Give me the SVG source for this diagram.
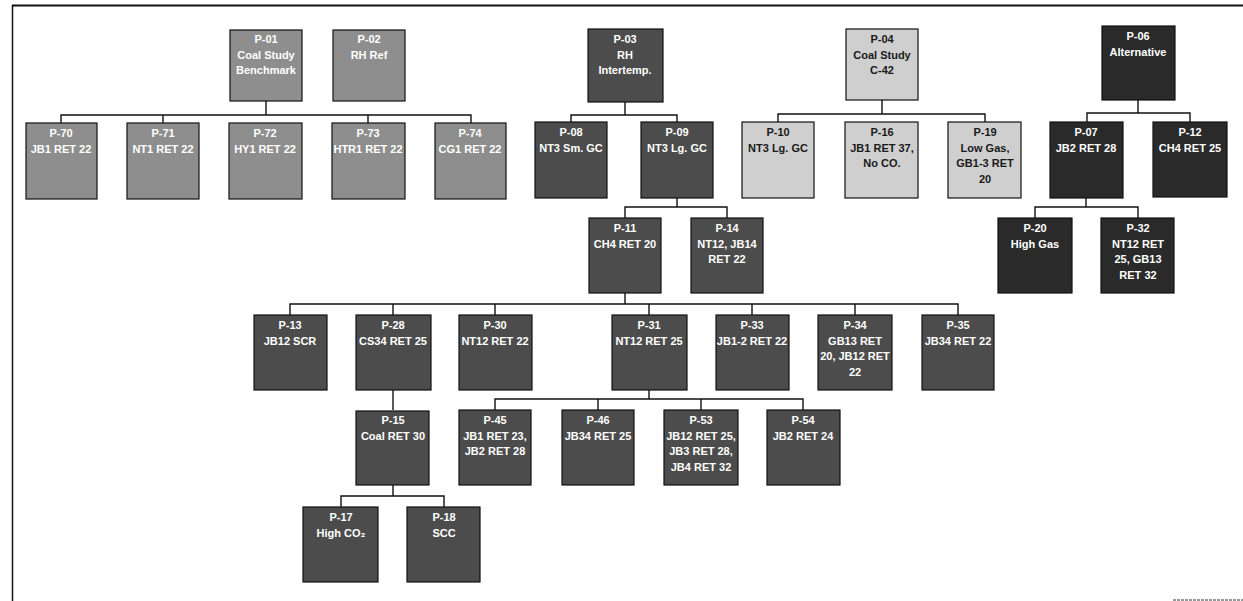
<svg xmlns="http://www.w3.org/2000/svg" width="1243" height="601" viewBox="0 0 1243 601">
<style>
rect.n{stroke:#111;stroke-width:1.2}
.g1{fill:#8e8e8e}
.g2{fill:#4c4c4c}
.g3{fill:#cfcfcf}
.g4{fill:#2a2a2a}
text{font-family:"Liberation Sans",Arial,sans-serif;font-weight:bold;font-size:11px;text-anchor:middle}
.w{fill:#fff}
.k{fill:#1a1a1a}
.c{fill:none;stroke:#111;stroke-width:1.4}
</style>
<rect width="1243" height="601" fill="#fff"/>
<g id="frame">
<line x1="12" y1="5.5" x2="1243" y2="5.5" stroke="#111" stroke-width="2"/>
<line x1="12.5" y1="5" x2="12.5" y2="601" stroke="#111" stroke-width="1.5"/>
<line x1="1173" y1="600" x2="1243" y2="600" stroke="#777" stroke-width="1.5" stroke-dasharray="3,1"/>
</g>
<g id="connectors">
<path class="c" d="M266,100V115M61,123V115H471V123M163,115V123M368,115V123"/>
<path class="c" d="M625,102V115M571,122V115H677V122"/>
<path class="c" d="M882,100V114M778,122V114H985V122"/>
<path class="c" d="M1138,100V113M1087,122V113H1190V122"/>
<path class="c" d="M677,198V207M625,218V207H727V218"/>
<path class="c" d="M1086,198V207M1035,218V207H1138V218"/>
<path class="c" d="M625,293V304M290,315V304H958V315M393,304V315M495,304V315M649,304V315M752,304V315M855,304V315"/>
<path class="c" d="M393,390V410"/>
<path class="c" d="M649,390V399M495,410V399H803V410M598,399V410M701,399V410"/>
<path class="c" d="M393,485V496M341,507V496H444V507"/>
</g>
<g id="P-01"><rect class="n g1" x="230" y="30" width="72" height="71"/><text class="w" x="266" y="43">P-01<tspan x="266" dy="15.5">Coal Study</tspan><tspan x="266" dy="15.5">Benchmark</tspan></text></g>
<g id="P-02"><rect class="n g1" x="333" y="30" width="72" height="71"/><text class="w" x="369" y="43">P-02<tspan x="369" dy="15.5">RH Ref</tspan></text></g>
<g id="P-03"><rect class="n g2" x="588" y="29" width="75" height="73"/><text class="w" x="625" y="43">P-03<tspan x="625" dy="15.5">RH</tspan><tspan x="625" dy="15.5">Intertemp.</tspan></text></g>
<g id="P-04"><rect class="n g3" x="846" y="29" width="72" height="71"/><text class="k" x="882" y="43">P-04<tspan x="882" dy="15.5">Coal Study</tspan><tspan x="882" dy="15.5">C-42</tspan></text></g>
<g id="P-06"><rect class="n g4" x="1102" y="26" width="73" height="74"/><text class="w" x="1138" y="40">P-06<tspan x="1138" dy="15.5">Alternative</tspan></text></g>
<g id="P-70"><rect class="n g1" x="26" y="123" width="71" height="76"/><text class="w" x="61" y="137">P-70<tspan x="61" dy="15.5">JB1 RET 22</tspan></text></g>
<g id="P-71"><rect class="n g1" x="127" y="123" width="72" height="76"/><text class="w" x="163" y="137">P-71<tspan x="163" dy="15.5">NT1 RET 22</tspan></text></g>
<g id="P-72"><rect class="n g1" x="229" y="123" width="73" height="76"/><text class="w" x="265" y="137">P-72<tspan x="265" dy="15.5">HY1 RET 22</tspan></text></g>
<g id="P-73"><rect class="n g1" x="332" y="123" width="73" height="76"/><text class="w" x="368" y="137">P-73<tspan x="368" dy="15.5">HTR1 RET 22</tspan></text></g>
<g id="P-74"><rect class="n g1" x="435" y="123" width="71" height="76"/><text class="w" x="470" y="137">P-74<tspan x="470" dy="15.5">CG1 RET 22</tspan></text></g>
<g id="P-08"><rect class="n g2" x="535" y="122" width="72" height="76"/><text class="w" x="571" y="136">P-08<tspan x="571" dy="15.5">NT3 Sm. GC</tspan></text></g>
<g id="P-09"><rect class="n g2" x="641" y="122" width="72" height="76"/><text class="w" x="677" y="136">P-09<tspan x="677" dy="15.5">NT3 Lg. GC</tspan></text></g>
<g id="P-10"><rect class="n g3" x="742" y="122" width="72" height="76"/><text class="k" x="778" y="136">P-10<tspan x="778" dy="15.5">NT3 Lg. GC</tspan></text></g>
<g id="P-16"><rect class="n g3" x="845" y="122" width="73" height="76"/><text class="k" x="882" y="136">P-16<tspan x="882" dy="15.5">JB1 RET 37,</tspan><tspan x="882" dy="15.5">No CO.</tspan></text></g>
<g id="P-19"><rect class="n g3" x="948" y="122" width="73" height="76"/><text class="k" x="985" y="136">P-19<tspan x="985" dy="15.5">Low Gas,</tspan><tspan x="985" dy="15.5">GB1-3 RET</tspan><tspan x="985" dy="15.5">20</tspan></text></g>
<g id="P-07"><rect class="n g4" x="1050" y="122" width="73" height="76"/><text class="w" x="1086" y="136">P-07<tspan x="1086" dy="15.5">JB2 RET 28</tspan></text></g>
<g id="P-12"><rect class="n g4" x="1153" y="122" width="74" height="75"/><text class="w" x="1190" y="136">P-12<tspan x="1190" dy="15.5">CH4 RET 25</tspan></text></g>
<g id="P-11"><rect class="n g2" x="589" y="218" width="72" height="75"/><text class="w" x="625" y="232">P-11<tspan x="625" dy="15.5">CH4 RET 20</tspan></text></g>
<g id="P-14"><rect class="n g2" x="691" y="218" width="72" height="75"/><text class="w" x="727" y="232">P-14<tspan x="727" dy="15.5">NT12, JB14</tspan><tspan x="727" dy="15.5">RET 22</tspan></text></g>
<g id="P-20"><rect class="n g4" x="998" y="218" width="74" height="75"/><text class="w" x="1035" y="232">P-20<tspan x="1035" dy="15.5">High Gas</tspan></text></g>
<g id="P-32"><rect class="n g4" x="1101" y="218" width="73" height="75"/><text class="w" x="1138" y="232">P-32<tspan x="1138" dy="15.5">NT12 RET</tspan><tspan x="1138" dy="15.5">25, GB13</tspan><tspan x="1138" dy="15.5">RET 32</tspan></text></g>
<g id="P-13"><rect class="n g2" x="254" y="315" width="73" height="75"/><text class="w" x="290" y="329">P-13<tspan x="290" dy="15.5">JB12 SCR</tspan></text></g>
<g id="P-28"><rect class="n g2" x="356" y="315" width="75" height="75"/><text class="w" x="393" y="329">P-28<tspan x="393" dy="15.5">CS34 RET 25</tspan></text></g>
<g id="P-30"><rect class="n g2" x="459" y="315" width="73" height="75"/><text class="w" x="495" y="329">P-30<tspan x="495" dy="15.5">NT12 RET 22</tspan></text></g>
<g id="P-31"><rect class="n g2" x="612" y="315" width="75" height="75"/><text class="w" x="649" y="329">P-31<tspan x="649" dy="15.5">NT12 RET 25</tspan></text></g>
<g id="P-33"><rect class="n g2" x="716" y="315" width="73" height="75"/><text class="w" x="752" y="329">P-33<tspan x="752" dy="15.5">JB1-2 RET 22</tspan></text></g>
<g id="P-34"><rect class="n g2" x="818" y="315" width="74" height="75"/><text class="w" x="855" y="329">P-34<tspan x="855" dy="15.5">GB13 RET</tspan><tspan x="855" dy="15.5">20, JB12 RET</tspan><tspan x="855" dy="15.5">22</tspan></text></g>
<g id="P-35"><rect class="n g2" x="922" y="315" width="72" height="75"/><text class="w" x="958" y="329">P-35<tspan x="958" dy="15.5">JB34 RET 22</tspan></text></g>
<g id="P-15"><rect class="n g2" x="356" y="411" width="73" height="74"/><text class="w" x="393" y="424">P-15<tspan x="393" dy="15.5">Coal RET 30</tspan></text></g>
<g id="P-45"><rect class="n g2" x="459" y="410" width="72" height="75"/><text class="w" x="495" y="424">P-45<tspan x="495" dy="15.5">JB1 RET 23,</tspan><tspan x="495" dy="15.5">JB2 RET 28</tspan></text></g>
<g id="P-46"><rect class="n g2" x="562" y="410" width="72" height="75"/><text class="w" x="598" y="424">P-46<tspan x="598" dy="15.5">JB34 RET 25</tspan></text></g>
<g id="P-53"><rect class="n g2" x="664" y="410" width="74" height="75"/><text class="w" x="701" y="424">P-53<tspan x="701" dy="15.5">JB12 RET 25,</tspan><tspan x="701" dy="15.5">JB3 RET 28,</tspan><tspan x="701" dy="15.5">JB4 RET 32</tspan></text></g>
<g id="P-54"><rect class="n g2" x="767" y="410" width="73" height="75"/><text class="w" x="803" y="424">P-54<tspan x="803" dy="15.5">JB2 RET 24</tspan></text></g>
<g id="P-17"><rect class="n g2" x="303" y="507" width="75" height="75"/><text class="w" x="341" y="521">P-17<tspan x="341" dy="15.5">High CO₂</tspan></text></g>
<g id="P-18"><rect class="n g2" x="407" y="507" width="73" height="75"/><text class="w" x="444" y="521">P-18<tspan x="444" dy="15.5">SCC</tspan></text></g>
</svg>
